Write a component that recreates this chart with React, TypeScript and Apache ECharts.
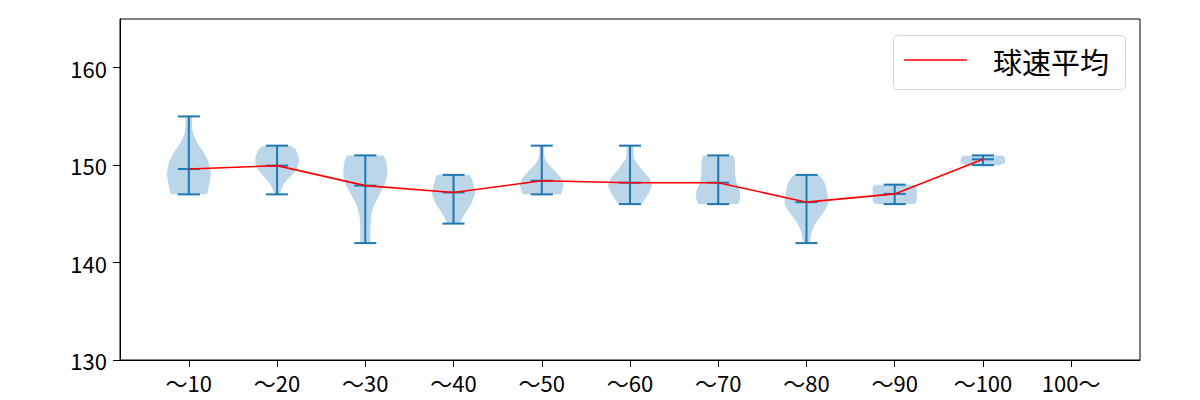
import React, { useEffect, useRef } from 'react';
import * as echarts from 'echarts';

const categories = ['～10', '～20', '～30', '～40', '～50', '～60', '～70', '～80', '～90', '～100', '100～'];
const positions = [1, 2, 3, 4, 5, 6, 7, 8, 9, 10];
const means = [149.6, 149.95, 147.9, 147.2, 148.4, 148.2, 148.2, 146.2, 147.05, 150.6];
const mins = [147, 147, 142, 144, 147, 146, 146, 142, 146, 150];
const maxs = [155, 152, 151, 149, 152, 152, 151, 149, 148, 151];
const legendLabel = '球速平均';

// violin outlines: [value, relative half-width]
const profile10 = [[155, 0.14], [154, 0.15], [153.4, 0.18], [152.85, 0.26], [152.3, 0.38], [151.3, 0.68], [150.3, 0.9], [149.1, 1.0], [148, 0.92], [147, 0.83]];
const profile20 = [[152, 0.62], [151.65, 0.83], [151, 0.96], [150.4, 1.0], [149.6, 0.9], [148.9, 0.64], [148.4, 0.42], [147.9, 0.27], [147.4, 0.18], [147, 0.15]];
const profile30 = [[151, 0.83], [150.5, 0.93], [149.9, 0.98], [148.9, 1.0], [147.9, 0.87], [146.8, 0.6], [145.8, 0.38], [144.8, 0.26], [143.4, 0.23], [142, 0.23]];
const profile40 = [[149, 0.75], [148.6, 0.83], [148.2, 0.88], [147.2, 1.0], [146.15, 0.83], [145.6, 0.68], [145.1, 0.53], [144.5, 0.38], [144, 0.3]];
const profile50 = [[152, 0.11], [151, 0.11], [150.6, 0.16], [150.3, 0.24], [149.8, 0.42], [149.4, 0.6], [148.6, 0.9], [147.9, 1.0], [147, 0.87]];
const profile60 = [[152, 0.15], [151, 0.15], [150.6, 0.2], [150.3, 0.3], [149.8, 0.45], [149.4, 0.6], [148.6, 0.9], [147.9, 1.0], [147, 0.83], [146, 0.53]];
const profile70 = [[151, 0.68], [150.6, 0.74], [150.3, 0.76], [149.2, 0.76], [148.2, 0.83], [147.6, 0.95], [147.2, 1.0], [146.5, 1.0], [146, 0.9]];
const profile80 = [[149, 0.57], [148.6, 0.72], [148.2, 0.83], [147.2, 0.94], [146.15, 1.0], [145.6, 0.9], [145.1, 0.76], [144.1, 0.42], [143.1, 0.23], [142, 0.15]];
const profile90 = [[148, 0.85], [147.85, 0.97], [147.5, 1.0], [146.5, 1.0], [146.15, 0.97], [146, 0.85]];
const profile100 = [[151, 0.75], [150.9, 0.95], [150.75, 1.0], [150.3, 1.0], [150.15, 0.95], [150, 0.75]];
const profiles = [profile10, profile20, profile30, profile40, profile50, profile60, profile70, profile80, profile90, profile100];

const yTicks = [130, 140, 150, 160];

export default function App() {
  const ref = useRef<HTMLDivElement>(null);
  useEffect(() => {
    const chart = echarts.init(ref.current!, null, { renderer: 'svg' });
    const FONT = "'Noto Sans CJK JP', 'Noto Sans', sans-serif";
    const C0 = '#1f77b4';
    const HALF = 0.25;
    const CAP = 0.125;
    const xTicks = categories.map((_, i) => i + 1);
    chart.setOption({
      animation: false,
      grid: { left: 120, right: 60, top: 19, bottom: 40, show: true, borderColor: '#000', borderWidth: 1, backgroundColor: 'transparent' },
      xAxis: {
        type: 'value', min: 0.22, max: 11.78,
        axisLine: { show: true, lineStyle: { color: '#000', width: 1 } },
        axisTick: { show: true, length: 7, customValues: xTicks, lineStyle: { color: '#000', width: 1 } },
        axisLabel: { customValues: xTicks, formatter: (v: number) => categories[Math.round(v) - 1] ?? '', fontFamily: FONT, fontSize: 22, color: '#000', margin: 11 },
        splitLine: { show: false },
      },
      yAxis: {
        type: 'value', min: 130, max: 165,
        axisLine: { show: true, lineStyle: { color: '#000', width: 1 } },
        axisTick: { show: true, length: 7, customValues: yTicks, lineStyle: { color: '#000', width: 1 } },
        axisLabel: { customValues: yTicks, fontFamily: FONT, fontSize: 22, color: '#000', margin: 13 },
        splitLine: { show: false },
      },
      series: [
        {
          type: 'custom',
          data: positions.map((p, i) => [p, means[i]]),
          encode: { x: 0, y: 1 },
          renderItem: (params: any, api: any) => {
            const i = params.dataIndex;
            const pos = positions[i];
            const prof = profiles[i];
            const right = prof.map(([v, w]) => api.coord([pos + w * HALF, v]));
            const left = prof.slice().reverse().map(([v, w]) => api.coord([pos - w * HALF, v]));
            return { type: 'polygon', shape: { points: right.concat(left) }, style: { fill: 'rgba(31,119,180,0.3)', stroke: 'none' } };
          },
          z: 1,
        },
        {
          type: 'custom',
          data: positions.map((p, i) => [p, means[i]]),
          encode: { x: 0, y: 1 },
          renderItem: (params: any, api: any) => {
            const i = params.dataIndex;
            const pos = positions[i];
            const top = api.coord([pos, maxs[i]]);
            const bot = api.coord([pos, mins[i]]);
            const mid = api.coord([pos, means[i]]);
            const l = api.coord([pos - CAP, maxs[i]])[0];
            const r = api.coord([pos + CAP, maxs[i]])[0];
            const st = { stroke: C0, lineWidth: 2 };
            return {
              type: 'group',
              children: [
                { type: 'line', shape: { x1: top[0], y1: top[1], x2: bot[0], y2: bot[1] }, style: st },
                { type: 'line', shape: { x1: l, y1: top[1], x2: r, y2: top[1] }, style: st },
                { type: 'line', shape: { x1: l, y1: bot[1], x2: r, y2: bot[1] }, style: st },
                { type: 'line', shape: { x1: l, y1: mid[1], x2: r, y2: mid[1] }, style: st },
              ],
            };
          },
          z: 2,
        },
        {
          type: 'line',
          name: legendLabel,
          data: positions.map((p, i) => [p, means[i]]),
          symbol: 'none',
          lineStyle: { color: '#ff0000', width: 1.6 },
          z: 3,
        },
      ],
      graphic: [
        { type: 'rect', z: 100, shape: { x: 893.5, y: 35.5, width: 232, height: 54, r: 4 }, style: { fill: 'rgba(255,255,255,0.8)', stroke: '#d4d4d4', lineWidth: 1 } },
        { type: 'line', z: 101, shape: { x1: 904, y1: 60, x2: 967, y2: 60 }, style: { stroke: '#ff0000', lineWidth: 1.6 } },
        { type: 'text', z: 101, x: 993, y: 61, style: { text: legendLabel, fontFamily: FONT, fontSize: 29, fill: '#000', verticalAlign: 'middle', align: 'left' } },
      ],
    });
    return () => chart.dispose();
  }, []);
  return <div ref={ref} style={{ width: 1200, height: 400, position: 'absolute', left: 0, top: 0 }} />;
}
